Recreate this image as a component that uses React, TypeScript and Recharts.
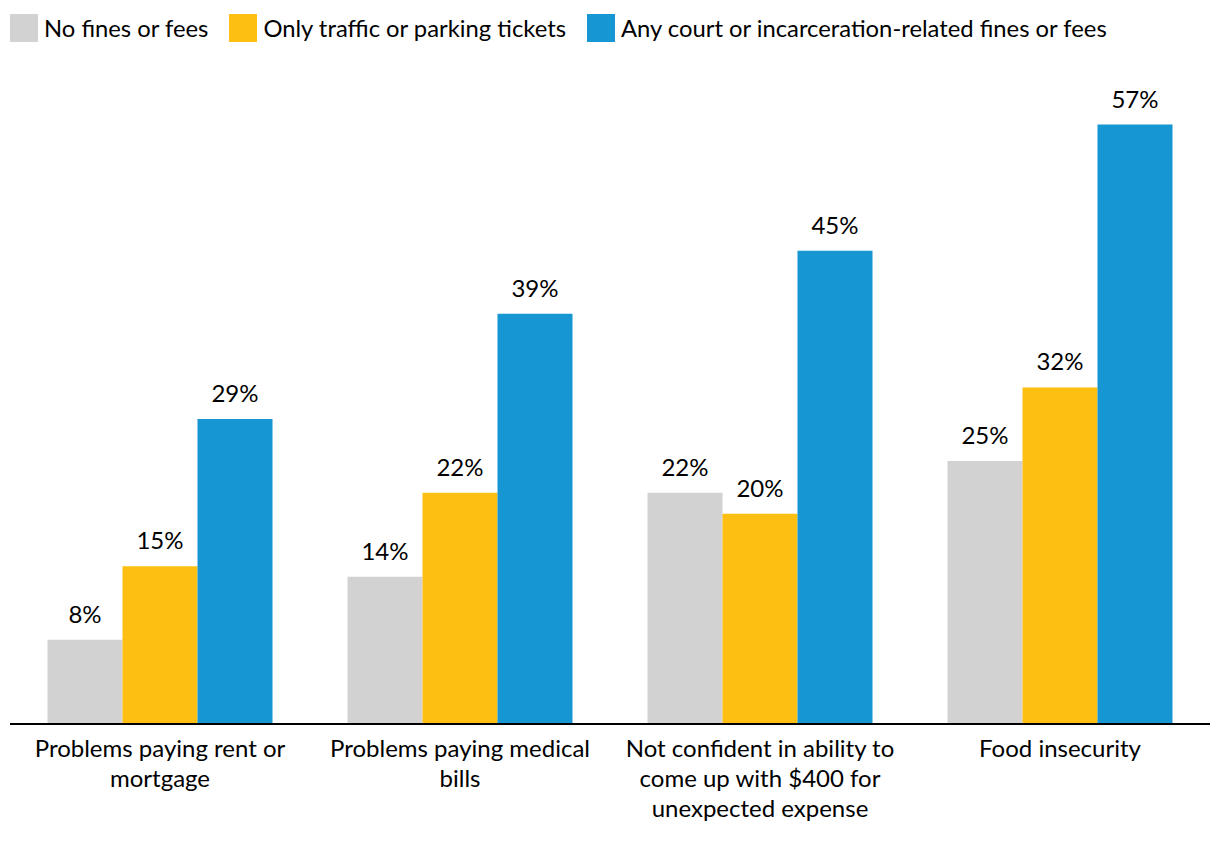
import React from "react";
import { BarChart, Bar, XAxis, YAxis, LabelList } from "recharts";

const categories = [
  "Problems paying rent or mortgage",
  "Problems paying medical bills",
  "Not confident in ability to come up with $400 for unexpected expense",
  "Food insecurity",
];
const tickLines = [
  ["Problems paying rent or", "mortgage"],
  ["Problems paying medical", "bills"],
  ["Not confident in ability to", "come up with $400 for", "unexpected expense"],
  ["Food insecurity"],
];
const noFines = [8, 14, 22, 25];
const trafficOnly = [15, 22, 20, 32];
const courtFines = [29, 39, 45, 57];
const seriesNames = [
  "No fines or fees",
  "Only traffic or parking tickets",
  "Any court or incarceration-related fines or fees",
];
const colors = ["#d2d2d2", "#fdbf11", "#1696d2"];

const data = categories.map((name, i) => ({
  name,
  idx: i,
  noFines: noFines[i],
  trafficOnly: trafficOnly[i],
  courtFines: courtFines[i],
}));

const FONT = "Lato, 'Noto Sans', sans-serif";
const TEXT = "#000";

const Tick = (props: any) => {
  const { x, y, payload } = props;
  const lines = tickLines[payload.index] || [payload.value];
  return (
    <text x={x} y={y} textAnchor="middle" fill={TEXT} fontFamily={FONT} fontSize={24}>
      {lines.map((l: string, i: number) => (
        <tspan key={i} x={x} y={y + 33 + i * 30}>
          {l}
        </tspan>
      ))}
    </text>
  );
};

const LegendBox = () => (
  <div
    style={{
      position: "absolute",
      top: 14,
      left: 10,
      display: "flex",
      alignItems: "center",
      fontFamily: FONT,
      fontSize: 23.8,
      color: TEXT,
      whiteSpace: "nowrap",
    }}
  >
    {seriesNames.map((n, i) => (
      <div key={n} style={{ display: "flex", alignItems: "center", marginRight: 21 }}>
        <div style={{ width: 28, height: 28, background: colors[i], marginRight: 6 }} />
        <span>{n}</span>
      </div>
    ))}
  </div>
);

const fmt = (v: any) => `${v}%`;

export default function App() {
  return (
    <div style={{ position: "absolute", left: 0, top: 0, width: 1220, height: 842, background: "#fff" }}>
      <BarChart
        width={1220}
        height={842}
        data={data}
        margin={{ top: 93, right: 10, bottom: 8, left: 10 }}
        barCategoryGap="12.5%"
        barGap={0}
      >
        <XAxis
          dataKey="name"
          interval={0}
          tickLine={false}
          tickSize={0}
          tickMargin={0}
          axisLine={{ stroke: "#000", strokeWidth: 2 }}
          height={110}
          tick={<Tick />}
        />
        <YAxis hide domain={[0, 60]} />
        <Bar dataKey="noFines" name={seriesNames[0]} fill={colors[0]} isAnimationActive={false}>
          <LabelList dataKey="noFines" position="top" offset={17} formatter={fmt} fill={TEXT} fontFamily={FONT} fontSize={24} />
        </Bar>
        <Bar dataKey="trafficOnly" name={seriesNames[1]} fill={colors[1]} isAnimationActive={false}>
          <LabelList dataKey="trafficOnly" position="top" offset={17} formatter={fmt} fill={TEXT} fontFamily={FONT} fontSize={24} />
        </Bar>
        <Bar dataKey="courtFines" name={seriesNames[2]} fill={colors[2]} isAnimationActive={false}>
          <LabelList dataKey="courtFines" position="top" offset={17} formatter={fmt} fill={TEXT} fontFamily={FONT} fontSize={24} />
        </Bar>
      </BarChart>
      <LegendBox />
    </div>
  );
}
